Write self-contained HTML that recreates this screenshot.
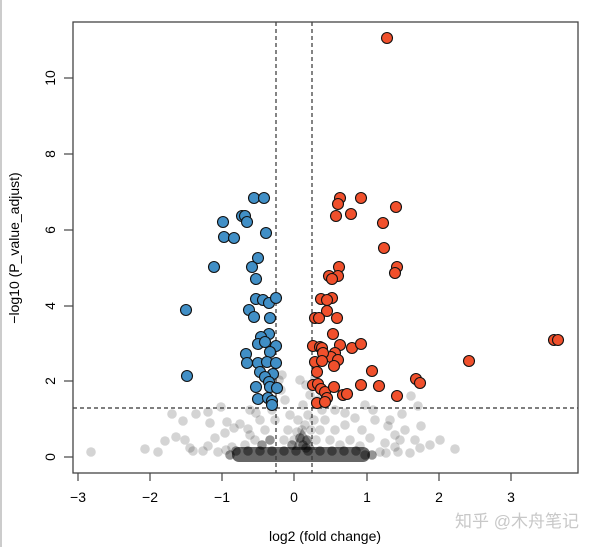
<!DOCTYPE html>
<html><head><meta charset="utf-8"><style>
html,body{margin:0;padding:0;background:#fff;width:600px;height:547px;overflow:hidden}
svg{display:block}
text{font-family:"Liberation Sans",Arial,sans-serif;fill:#000}
</style></head><body>
<svg width="600" height="547" viewBox="0 0 600 547" xmlns="http://www.w3.org/2000/svg">
<rect x="0" y="0" width="600" height="547" fill="#fff"/>
<line x1="1" y1="0" x2="1" y2="547" stroke="#ccc" stroke-width="2"/>
<rect x="232" y="447" width="138" height="15" rx="7" fill="rgba(0,0,0,0.6)"/>
<path d="M292,450 L302,428 L310,440 L316,450 Z" fill="rgba(0,0,0,0.35)"/>
<g fill="rgba(0,0,0,0.42)">
<circle cx="236" cy="451" r="4.8"/><circle cx="248" cy="451" r="4.8"/><circle cx="260" cy="451" r="4.8"/><circle cx="272" cy="451" r="4.8"/><circle cx="284" cy="451" r="4.8"/><circle cx="296" cy="451" r="4.8"/><circle cx="308" cy="451" r="4.8"/><circle cx="320" cy="451" r="4.8"/><circle cx="332" cy="451" r="4.8"/><circle cx="344" cy="451" r="4.8"/><circle cx="356" cy="451" r="4.8"/>
<circle cx="230" cy="455" r="4.8"/><circle cx="365" cy="455" r="4.8"/><circle cx="372" cy="455" r="4.8"/>
<circle cx="303" cy="445" r="4.8"/><circle cx="307" cy="440" r="4.8"/><circle cx="306" cy="448" r="4.8"/><circle cx="300" cy="438" r="4.8"/><circle cx="292" cy="445" r="4.8"/><circle cx="270" cy="440" r="4.8"/><circle cx="262" cy="445" r="4.8"/>
</g>
<g fill="rgba(0,0,0,0.17)">
<circle cx="284" cy="440" r="4.8"/><circle cx="288" cy="430" r="4.8"/><circle cx="305" cy="425" r="4.8"/><circle cx="308" cy="415" r="4.8"/><circle cx="303" cy="405" r="4.8"/><circle cx="310" cy="395" r="4.8"/><circle cx="306" cy="385" r="4.8"/><circle cx="300" cy="380" r="4.8"/><circle cx="298" cy="420" r="4.8"/><circle cx="290" cy="415" r="4.8"/><circle cx="285" cy="400" r="4.8"/><circle cx="281" cy="390" r="4.8"/><circle cx="279" cy="380" r="4.8"/><circle cx="311" cy="430" r="4.8"/><circle cx="316" cy="440" r="4.8"/><circle cx="314" cy="420" r="4.8"/><circle cx="265" cy="430" r="4.8"/><circle cx="320" cy="430" r="4.8"/><circle cx="325" cy="420" r="4.8"/><circle cx="330" cy="440" r="4.8"/><circle cx="335" cy="430" r="4.8"/><circle cx="340" cy="445" r="4.8"/><circle cx="345" cy="425" r="4.8"/><circle cx="255" cy="440" r="4.8"/><circle cx="250" cy="435" r="4.8"/><circle cx="245" cy="445" r="4.8"/><circle cx="275" cy="420" r="4.8"/><circle cx="272" cy="410" r="4.8"/><circle cx="268" cy="400" r="4.8"/><circle cx="282" cy="375" r="4.8"/><circle cx="315" cy="378" r="4.8"/><circle cx="318" cy="400" r="4.8"/><circle cx="322" cy="410" r="4.8"/><circle cx="297" cy="432" r="4.8"/><circle cx="294" cy="440" r="4.8"/><circle cx="302" cy="430" r="4.8"/>
<circle cx="91" cy="452" r="4.8"/><circle cx="145" cy="449" r="4.8"/><circle cx="158" cy="452" r="4.8"/><circle cx="165" cy="441" r="4.8"/><circle cx="190" cy="448" r="4.8"/><circle cx="185" cy="440" r="4.8"/><circle cx="196" cy="414" r="4.8"/><circle cx="208" cy="412" r="4.8"/><circle cx="210" cy="423" r="4.8"/><circle cx="193" cy="451" r="4.8"/><circle cx="203" cy="451" r="4.8"/><circle cx="208" cy="446" r="4.8"/><circle cx="221" cy="407" r="4.8"/><circle cx="225" cy="433" r="4.8"/><circle cx="227" cy="422" r="4.8"/><circle cx="234" cy="428" r="4.8"/><circle cx="240" cy="424" r="4.8"/><circle cx="248" cy="429" r="4.8"/><circle cx="256" cy="413" r="4.8"/><circle cx="232" cy="447" r="4.8"/><circle cx="410" cy="453" r="4.8"/><circle cx="455" cy="449" r="4.8"/><circle cx="411" cy="396" r="4.8"/><circle cx="421" cy="426" r="4.8"/><circle cx="418" cy="406" r="4.8"/><circle cx="400" cy="440" r="4.8"/><circle cx="395" cy="447" r="4.8"/><circle cx="380" cy="452" r="4.8"/><circle cx="370" cy="438" r="4.8"/><circle cx="362" cy="430" r="4.8"/><circle cx="355" cy="418" r="4.8"/><circle cx="345" cy="413" r="4.8"/><circle cx="335" cy="410" r="4.8"/><circle cx="350" cy="440" r="4.8"/><circle cx="360" cy="446" r="4.8"/><circle cx="388" cy="426" r="4.8"/><circle cx="402" cy="414" r="4.8"/><circle cx="385" cy="443" r="4.8"/><circle cx="373" cy="410" r="4.8"/>
<circle cx="172" cy="414" r="4.8"/><circle cx="183" cy="421" r="4.8"/><circle cx="176" cy="437" r="4.8"/><circle cx="215" cy="438" r="4.8"/><circle cx="390" cy="420" r="4.8"/><circle cx="405" cy="430" r="4.8"/><circle cx="415" cy="440" r="4.8"/><circle cx="430" cy="445" r="4.8"/><circle cx="440" cy="440" r="4.8"/><circle cx="365" cy="405" r="4.8"/><circle cx="375" cy="420" r="4.8"/><circle cx="395" cy="435" r="4.8"/><circle cx="420" cy="448" r="4.8"/><circle cx="260" cy="420" r="4.8"/><circle cx="250" cy="410" r="4.8"/><circle cx="218" cy="452" r="4.8"/><circle cx="226" cy="450" r="4.8"/><circle cx="386" cy="453" r="4.8"/><circle cx="398" cy="452" r="4.8"/>
</g>
<g stroke="#333" stroke-width="1.2" stroke-dasharray="4,3" fill="none">
<line x1="276" y1="22" x2="276" y2="473"/>
<line x1="312" y1="22" x2="312" y2="473"/>
<line x1="73" y1="408" x2="578" y2="408"/>
</g>
<g fill="#418fc6" stroke="#111" stroke-width="1.1">
<circle cx="254" cy="198" r="5.5"/><circle cx="264" cy="198" r="5.5"/><circle cx="242" cy="216" r="5.5"/><circle cx="245" cy="216" r="5.5"/><circle cx="247" cy="222" r="5.5"/><circle cx="223" cy="222" r="5.5"/><circle cx="266" cy="233" r="5.5"/><circle cx="224" cy="237" r="5.5"/><circle cx="234" cy="238" r="5.5"/><circle cx="258" cy="258" r="5.5"/><circle cx="214" cy="267" r="5.5"/><circle cx="252" cy="267" r="5.5"/><circle cx="256" cy="279" r="5.5"/><circle cx="256" cy="299" r="5.5"/><circle cx="263" cy="300" r="5.5"/><circle cx="269" cy="303" r="5.5"/><circle cx="276" cy="298" r="5.5"/><circle cx="186" cy="310" r="5.5"/><circle cx="249" cy="310" r="5.5"/><circle cx="254" cy="317" r="5.5"/><circle cx="270" cy="318" r="5.5"/><circle cx="269" cy="334" r="5.5"/><circle cx="261" cy="337" r="5.5"/><circle cx="258" cy="344" r="5.5"/><circle cx="265" cy="342" r="5.5"/><circle cx="276" cy="346" r="5.5"/><circle cx="270" cy="352" r="5.5"/><circle cx="246" cy="354" r="5.5"/><circle cx="247" cy="363" r="5.5"/><circle cx="258" cy="363" r="5.5"/><circle cx="267" cy="362" r="5.5"/><circle cx="276" cy="363" r="5.5"/><circle cx="260" cy="372" r="5.5"/><circle cx="273" cy="374" r="5.5"/><circle cx="187" cy="376" r="5.5"/><circle cx="265" cy="377" r="5.5"/><circle cx="269" cy="382" r="5.5"/><circle cx="256" cy="387" r="5.5"/><circle cx="270" cy="387" r="5.5"/><circle cx="277" cy="388" r="5.5"/><circle cx="258" cy="399" r="5.5"/><circle cx="268" cy="398" r="5.5"/><circle cx="272" cy="401" r="5.5"/><circle cx="272" cy="405" r="5.5"/>
</g>
<g fill="#f0502c" stroke="#111" stroke-width="1.1">
<circle cx="387" cy="38" r="5.5"/><circle cx="340" cy="198" r="5.5"/><circle cx="361" cy="198" r="5.5"/><circle cx="338" cy="204" r="5.5"/><circle cx="396" cy="207" r="5.5"/><circle cx="336" cy="216" r="5.5"/><circle cx="351" cy="214" r="5.5"/><circle cx="383" cy="223" r="5.5"/><circle cx="384" cy="248" r="5.5"/><circle cx="339" cy="267" r="5.5"/><circle cx="397" cy="267" r="5.5"/><circle cx="395" cy="273" r="5.5"/><circle cx="329" cy="276" r="5.5"/><circle cx="338" cy="276" r="5.5"/><circle cx="332" cy="279" r="5.5"/><circle cx="321" cy="299" r="5.5"/><circle cx="332" cy="298" r="5.5"/><circle cx="327" cy="300" r="5.5"/><circle cx="327" cy="311" r="5.5"/><circle cx="315" cy="318" r="5.5"/><circle cx="319" cy="318" r="5.5"/><circle cx="337" cy="318" r="5.5"/><circle cx="333" cy="334" r="5.5"/><circle cx="313" cy="346" r="5.5"/><circle cx="320" cy="347" r="5.5"/><circle cx="322" cy="348" r="5.5"/><circle cx="340" cy="345" r="5.5"/><circle cx="352" cy="348" r="5.5"/><circle cx="361" cy="344" r="5.5"/><circle cx="335" cy="353" r="5.5"/><circle cx="331" cy="357" r="5.5"/><circle cx="323" cy="353" r="5.5"/><circle cx="338" cy="360" r="5.5"/><circle cx="315" cy="362" r="5.5"/><circle cx="322" cy="361" r="5.5"/><circle cx="334" cy="366" r="5.5"/><circle cx="372" cy="371" r="5.5"/><circle cx="317" cy="372" r="5.5"/><circle cx="416" cy="379" r="5.5"/><circle cx="420" cy="383" r="5.5"/><circle cx="313" cy="385" r="5.5"/><circle cx="318" cy="384" r="5.5"/><circle cx="321" cy="389" r="5.5"/><circle cx="325" cy="392" r="5.5"/><circle cx="334" cy="387" r="5.5"/><circle cx="361" cy="385" r="5.5"/><circle cx="379" cy="386" r="5.5"/><circle cx="343" cy="395" r="5.5"/><circle cx="347" cy="394" r="5.5"/><circle cx="397" cy="396" r="5.5"/><circle cx="327" cy="398" r="5.5"/><circle cx="317" cy="403" r="5.5"/><circle cx="325" cy="402" r="5.5"/><circle cx="469" cy="361" r="5.5"/><circle cx="554" cy="340" r="5.5"/><circle cx="558" cy="340" r="5.5"/>
</g>
<rect x="73" y="22" width="505" height="451" fill="none" stroke="#444" stroke-width="1.3"/>
<g stroke="#444" stroke-width="1.2">
<line x1="64" y1="457" x2="73" y2="457"/><line x1="64" y1="381" x2="73" y2="381"/>
<line x1="64" y1="306" x2="73" y2="306"/><line x1="64" y1="230" x2="73" y2="230"/>
<line x1="64" y1="154" x2="73" y2="154"/><line x1="64" y1="78" x2="73" y2="78"/>
<line x1="78" y1="473" x2="78" y2="481"/><line x1="150" y1="473" x2="150" y2="481"/>
<line x1="222" y1="473" x2="222" y2="481"/><line x1="294" y1="473" x2="294" y2="481"/>
<line x1="367" y1="473" x2="367" y2="481"/><line x1="439" y1="473" x2="439" y2="481"/>
<line x1="511" y1="473" x2="511" y2="481"/>
</g>
<g font-size="14" text-anchor="middle">
<text transform="translate(50,457) rotate(-90)" dy="5">0</text>
<text transform="translate(50,381) rotate(-90)" dy="5">2</text>
<text transform="translate(50,306) rotate(-90)" dy="5">4</text>
<text transform="translate(50,230) rotate(-90)" dy="5">6</text>
<text transform="translate(50,154) rotate(-90)" dy="5">8</text>
<text transform="translate(50,78) rotate(-90)" dy="5">10</text>
<text x="78" y="502">−3</text><text x="150" y="502">−2</text><text x="222" y="502">−1</text>
<text x="294" y="502">0</text><text x="367" y="502">1</text><text x="439" y="502">2</text><text x="511" y="502">3</text>
<text x="325" y="541">log2 (fold change)</text>
<text transform="translate(19,248) rotate(-90)">−log10 (P_value_adjust)</text>
</g>
<text x="455" y="527" font-size="17" style="fill:#c8c8c8;font-family:'Liberation Sans','Noto Sans CJK SC',sans-serif">知乎 @木舟笔记</text>
</svg>
</body></html>
